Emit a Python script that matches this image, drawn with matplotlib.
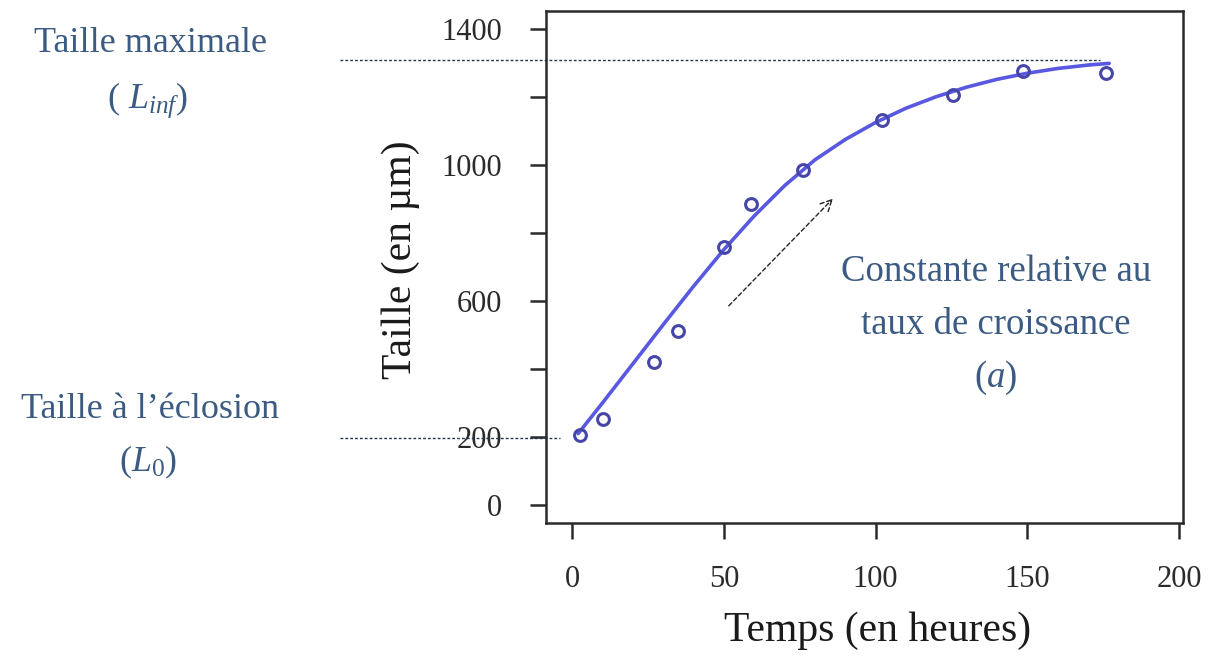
import matplotlib
matplotlib.use("Agg")
import matplotlib.pyplot as plt

# ---- data ----
temps_obs = [2.6, 10.2, 27, 35, 50, 59, 76, 102, 125.5, 148.6, 176]
taille_obs = [205, 253, 420, 512, 759, 885, 985, 1132, 1206, 1276, 1270]

temps_courbe = [2, 10, 20, 30, 40, 50, 60, 70, 80, 90, 100, 110, 120, 130, 140, 150, 160, 170, 177]
taille_courbe = [210, 300, 415, 530, 643, 751, 850, 939, 1015, 1075, 1125, 1167, 1201, 1229, 1252, 1270, 1284, 1294, 1299]

L_inf = 1310
L_0 = 197

x_ticks = [0, 50, 100, 150, 200]
y_ticks = [0, 200, 400, 600, 800, 1000, 1200, 1400]
y_tick_labels = ["0", "200", "", "600", "", "1000", "", "1400"]

# ---- style ----
plt.rcParams['font.family'] = ['Liberation Serif', 'DejaVu Serif']
plt.rcParams['mathtext.fontset'] = 'custom'
plt.rcParams['mathtext.rm'] = 'Liberation Serif'
plt.rcParams['mathtext.it'] = 'Liberation Serif:italic'

annot_col = '#3b5b82'
axis_col = '#2b2b2b'

fig = plt.figure(figsize=(12.12, 6.6), dpi=100)
ax = fig.add_axes([0.4505, 0.2076, 0.976 - 0.4505, 0.9833 - 0.2076])

ax.plot(temps_courbe, taille_courbe, color='#5858e0', lw=2.6, zorder=3,
        solid_joinstyle='round', solid_capstyle='round')
ax.plot(temps_obs, taille_obs, 'o', ms=8.5, mfc='none', mec='#4646a6', mew=2.2, zorder=4)

ax.set_xlim(-8.6, 201.3)
ax.set_ylim(-53, 1453)
ax.set_xticks(x_ticks)
ax.set_xticklabels([str(v) for v in x_ticks])
ax.set_yticks(y_ticks)
ax.set_yticklabels(y_tick_labels)
ax.tick_params(axis='both', direction='out', length=11.5, width=1.8, colors=axis_col,
               labelsize=22)
ax.tick_params(axis='y', pad=20)
ax.tick_params(axis='x', pad=19)
for s in ax.spines.values():
    s.set_linewidth(1.8)
    s.set_color(axis_col)

ax.set_xlabel("Temps (en heures)", fontsize=30, color='#1a1a1a')
ax.xaxis.set_label_coords(0.52, -0.172)
ax.xaxis.label.set_va('top')
ax.set_ylabel("Taille (en µm)", fontsize=30, color='#1a1a1a')
ax.yaxis.set_label_coords(-0.198, 0.514)

# dashed reference lines
ax.plot([-76.4, 174], [L_inf, L_inf], ls=(0, (2, 1.5)), lw=1.0, color='#24344e', clip_on=False, zorder=2)
ax.plot([-76.4, -4], [L_0, L_0], ls=(0, (2, 1.5)), lw=1.0, color='#24344e', clip_on=False, zorder=2)

# arrow
ax.annotate("", xy=(86.6, 907), xytext=(51, 580),
            arrowprops=dict(arrowstyle='->', ls=(0, (3, 2)), lw=1.0, color='#222222',
                            mutation_scale=20))

# annotations (figure coordinates in pixels -> fractions)
W, H = 1212, 660
def ftext(x, y, s, size):
    fig.text(x / W, 1 - y / H, s, ha='center', va='center', fontsize=size, color=annot_col)

ftext(150, 44, "Taille maximale", 26)
ftext(148, 100, r"( $L_{inf}$)", 26)
ftext(150, 410, "Taille à l\u2019éclosion", 26)
ftext(148, 462, r"($L_0$)", 26)
ftext(996, 272, "Constante relative au", 26.5)
ftext(996, 325, "taux de croissance", 26.5)
ftext(996, 378, r"($a$)", 26.5)

fig.savefig("out.png", dpi=100, facecolor='white')
